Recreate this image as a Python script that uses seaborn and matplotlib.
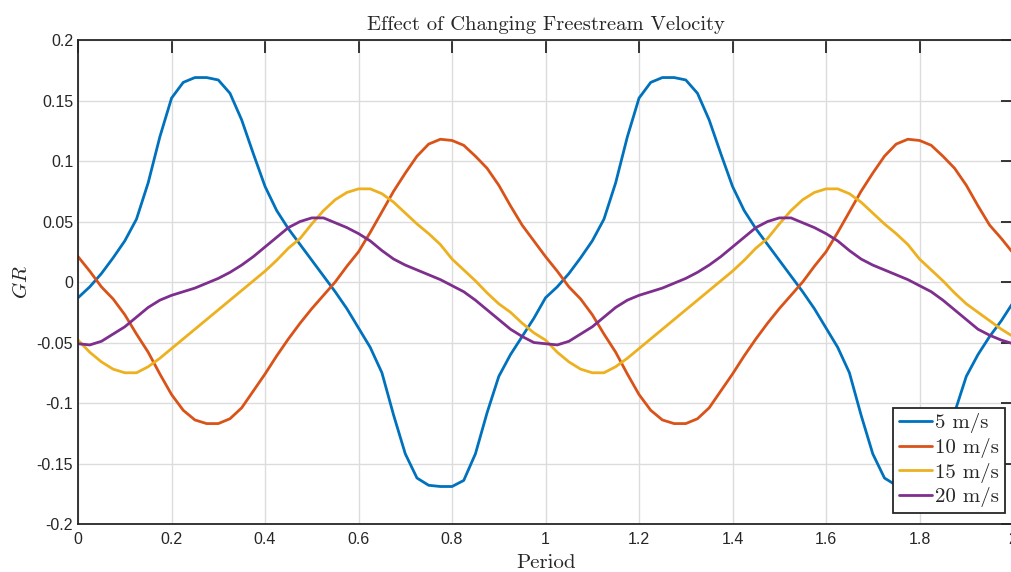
import numpy as np
import pandas as pd
import matplotlib
matplotlib.use("Agg")
import matplotlib.pyplot as plt
import seaborn as sns

# period grid (0 .. 2, step 0.025)
period = np.round(np.linspace(0, 2, 81), 3)

gr_5 = [-0.013, -0.004, 0.007, 0.020, 0.034, 0.052, 0.082, 0.120, 0.152, 0.165,
        0.169, 0.169, 0.167, 0.156, 0.134, 0.106, 0.079, 0.059, 0.044, 0.031,
        0.018, 0.005, -0.008, -0.022, -0.038, -0.054, -0.075, -0.110, -0.142, -0.162,
        -0.168, -0.169, -0.169, -0.164, -0.142, -0.108, -0.078, -0.060, -0.045, -0.030,
        -0.013, -0.004, 0.007, 0.020, 0.034, 0.052, 0.082, 0.120, 0.152, 0.165,
        0.169, 0.169, 0.167, 0.156, 0.134, 0.106, 0.079, 0.059, 0.044, 0.031,
        0.018, 0.005, -0.008, -0.022, -0.038, -0.054, -0.075, -0.110, -0.142, -0.162,
        -0.168, -0.169, -0.169, -0.164, -0.142, -0.108, -0.078, -0.060, -0.045, -0.032,
        -0.017]

gr_10 = [0.021, 0.009, -0.004, -0.014, -0.027, -0.043, -0.058, -0.076, -0.093, -0.106,
         -0.114, -0.117, -0.117, -0.113, -0.104, -0.090, -0.076, -0.061, -0.047, -0.034,
         -0.022, -0.011, 0.000, 0.013, 0.025, 0.041, 0.058, 0.075, 0.090, 0.104,
         0.114, 0.118, 0.117, 0.113, 0.104, 0.094, 0.080, 0.063, 0.047, 0.034,
         0.021, 0.009, -0.004, -0.014, -0.027, -0.043, -0.058, -0.076, -0.093, -0.106,
         -0.114, -0.117, -0.117, -0.113, -0.104, -0.090, -0.076, -0.061, -0.047, -0.034,
         -0.022, -0.011, 0.000, 0.013, 0.025, 0.041, 0.058, 0.075, 0.090, 0.104,
         0.114, 0.118, 0.117, 0.113, 0.104, 0.094, 0.080, 0.063, 0.047, 0.036,
         0.024]

gr_15 = [-0.048, -0.058, -0.066, -0.072, -0.075, -0.075, -0.070, -0.063, -0.055, -0.047,
         -0.039, -0.031, -0.023, -0.015, -0.007, 0.001, 0.009, 0.018, 0.028, 0.036,
         0.048, 0.059, 0.068, 0.074, 0.077, 0.077, 0.073, 0.066, 0.057, 0.048,
         0.040, 0.031, 0.019, 0.010, 0.001, -0.009, -0.018, -0.025, -0.034, -0.042,
         -0.048, -0.058, -0.066, -0.072, -0.075, -0.075, -0.070, -0.063, -0.055, -0.047,
         -0.039, -0.031, -0.023, -0.015, -0.007, 0.001, 0.009, 0.018, 0.028, 0.036,
         0.048, 0.059, 0.068, 0.074, 0.077, 0.077, 0.073, 0.066, 0.057, 0.048,
         0.040, 0.031, 0.019, 0.010, 0.001, -0.009, -0.018, -0.025, -0.032, -0.039,
         -0.045]

gr_20 = [-0.051, -0.052, -0.049, -0.043, -0.037, -0.029, -0.021, -0.015, -0.011, -0.008,
         -0.005, -0.001, 0.003, 0.008, 0.014, 0.021, 0.029, 0.037, 0.045, 0.050,
         0.053, 0.053, 0.049, 0.045, 0.040, 0.034, 0.026, 0.019, 0.014, 0.010,
         0.006, 0.002, -0.003, -0.008, -0.015, -0.023, -0.031, -0.039, -0.045, -0.050,
         -0.051, -0.052, -0.049, -0.043, -0.037, -0.029, -0.021, -0.015, -0.011, -0.008,
         -0.005, -0.001, 0.003, 0.008, 0.014, 0.021, 0.029, 0.037, 0.045, 0.050,
         0.053, 0.053, 0.049, 0.045, 0.040, 0.034, 0.026, 0.019, 0.014, 0.010,
         0.006, 0.002, -0.003, -0.008, -0.015, -0.023, -0.031, -0.039, -0.044, -0.048,
         -0.051]

labels = ["5 m/s", "10 m/s", "15 m/s", "20 m/s"]
colors = ["#0072BD", "#D95319", "#EDB120", "#7E2F8E"]

df = pd.DataFrame({
    "Period": np.tile(period, 4),
    "GR": gr_5 + gr_10 + gr_15 + gr_20,
    "Speed": np.repeat(labels, len(period)),
})

sns.set_style("white")
plt.rcParams["font.family"] = ["Liberation Sans", "DejaVu Sans"]
plt.rcParams["mathtext.fontset"] = "cm"
plt.rcParams["axes.unicode_minus"] = False

fig = plt.figure(figsize=(10.11, 5.72), dpi=100)
ax = fig.add_axes([0.0772, 0.0839, 0.9248, 0.8461])

sns.lineplot(data=df, x="Period", y="GR", hue="Speed", hue_order=labels,
             palette=colors, linewidth=2.0, ax=ax, sort=False)
for ln in ax.get_lines():
    ln.set_solid_joinstyle("round")

ax.set_xlim(0, 2)
ax.set_ylim(-0.2, 0.2)
xt = [0, 0.2, 0.4, 0.6, 0.8, 1, 1.2, 1.4, 1.6, 1.8, 2]
yt = [-0.2, -0.15, -0.1, -0.05, 0, 0.05, 0.1, 0.15, 0.2]
ax.set_xticks(xt)
ax.set_xticklabels(["0", "0.2", "0.4", "0.6", "0.8", "1", "1.2", "1.4", "1.6", "1.8", "2"])
ax.set_yticks(yt)
ax.set_yticklabels(["-0.2", "-0.15", "-0.1", "-0.05", "0", "0.05", "0.1", "0.15", "0.2"])
ax.tick_params(direction="in", length=9, width=1.3, top=True, right=True,
               labelsize=11.5, colors="#262626")
ax.tick_params(axis="x", pad=6)
ax.tick_params(axis="y", pad=3.5)
ax.grid(True, color="#dcdcdc", linewidth=1.0)
for s in ax.spines.values():
    s.set_color("#262626")
    s.set_linewidth(1.3)

ax.set_title("Effect of Changing Freestream Velocity", family="cmr10",
             fontsize=14.8, pad=7)
ax.set_xlabel("Period", family="cmr10", fontsize=15, labelpad=5)
ax.set_ylabel("$GR$", fontsize=15, labelpad=4)

leg = ax.legend(loc="lower right", bbox_to_anchor=(0.9914, 0.0227),
                prop={"family": "cmr10", "size": 15}, frameon=True, fancybox=False,
                handlelength=1.6, handletextpad=0.15, labelspacing=0.22,
                borderpad=0.28, borderaxespad=0)
leg.get_frame().set_edgecolor("#262626")
leg.get_frame().set_linewidth(1.3)
leg.get_frame().set_alpha(1)
for h in leg.get_lines():
    h.set_linewidth(2.0)

plt.savefig("out.png", dpi=100)
